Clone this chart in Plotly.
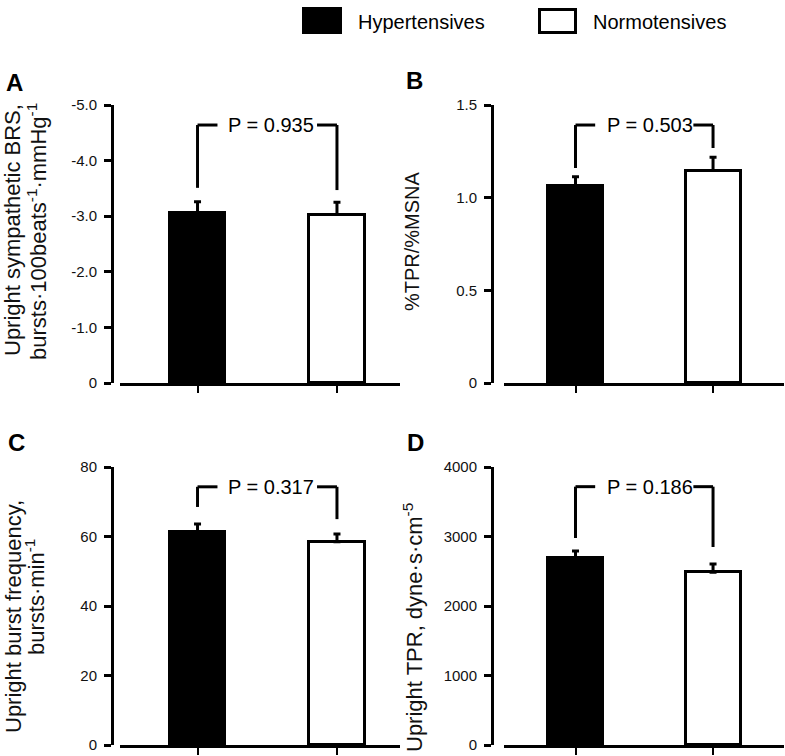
import plotly.graph_objects as go

W, H = 785, 756
FONT = "Liberation Sans, Arial, Helvetica, sans-serif"

# ---------------- data ----------------
groups = ["Hypertensives", "Normotensives"]
group_fill = ["black", "white"]

panel_letters = ["A", "B", "C", "D"]

means_A = [-3.06, -3.03]
sems_A = [0.20, 0.22]
means_B = [1.063, 1.146]
sems_B = [0.050, 0.072]
means_C = [61.4, 58.5]
sems_C = [2.2, 2.2]
means_D = [2686, 2484]
sems_D = [105, 120]

p_values = ["P = 0.935", "P = 0.503", "P = 0.317", "P = 0.186"]
bracket_level = [-4.64, 1.392, 74.3, 3717]
bracket_leg_ends = [[-3.51, -3.47], [1.160, 1.268], [68.5, 65.0], [2978, 2849]]

tickvals_A = [0, -1, -2, -3, -4, -5]
ticktext_A = ["0", "-1.0", "-2.0", "-3.0", "-4.0", "-5.0"]
tickvals_B = [0, 0.5, 1.0, 1.5]
ticktext_B = ["0", "0.5", "1.0", "1.5"]
tickvals_C = [0, 20, 40, 60, 80]
ticktext_C = ["0", "20", "40", "60", "80"]
tickvals_D = [0, 1000, 2000, 3000, 4000]
ticktext_D = ["0", "1000", "2000", "3000", "4000"]

titles_A = ["Upright sympathetic BRS,", "bursts·100beats<sup>-1</sup>·mmHg<sup>-1</sup>"]
titles_B = ["%TPR/%MSNA"]
titles_C = ["Upright burst frequency,", "bursts·min<sup>-1</sup>"]
titles_D = ["Upright TPR, dyne·s·cm<sup>-5</sup>"]

# ---------------- layout geometry (pixels) ----------------
def px(x):
    return x / W

def py(y):
    return 1 - y / H

panels = [
    dict(means=means_A, sems=sems_A, tv=tickvals_A, tt=ticktext_A, titles=titles_A,
         xdom=(120, 400), ydom=(105, 383), yax=112, xr=(-0.556, 1.452), yr=(0, -5),
         tpos=[(13, 230), (37, 232)], tsize=22, letter=(14, 82), pshift=4),
    dict(means=means_B, sems=sems_B, tv=tickvals_B, tt=ticktext_B, titles=titles_B,
         xdom=(504, 784), ydom=(105, 383), yax=492, xr=(-0.52, 1.516), yr=(0, 1.5),
         tpos=[(412, 241)], tsize=20, letter=(414, 81), pshift=6),
    dict(means=means_C, sems=sems_C, tv=tickvals_C, tt=ticktext_C, titles=titles_C,
         xdom=(120, 400), ydom=(467, 745), yax=112, xr=(-0.556, 1.452), yr=(0, 80),
         tpos=[(13, 617), (35, 597)], tsize=22, letter=(16, 443), pshift=4),
    dict(means=means_D, sems=sems_D, tv=tickvals_D, tt=ticktext_D, titles=titles_D,
         xdom=(504, 784), ydom=(467, 745), yax=492, xr=(-0.52, 1.516), yr=(0, 4000),
         tpos=[(413, 628)], tsize=22, letter=(415, 443), pshift=6),
]

fig = go.Figure()
shapes = []
annotations = []
layout = {}

for i, p in enumerate(panels):
    n = i + 1
    xa = "x" if n == 1 else f"x{n}"
    ya = "y" if n == 1 else f"y{n}"
    xkey = "xaxis" if n == 1 else f"xaxis{n}"
    ykey = "yaxis" if n == 1 else f"yaxis{n}"

    for g in range(2):
        m = p["means"][g]
        s = p["sems"][g]
        if m < 0:
            eplus, eminus = 0, s
        else:
            eplus, eminus = s, 0
        fig.add_trace(go.Bar(
            x=[g], y=[m], xaxis=xa, yaxis=ya, width=0.40,
            marker=dict(color=group_fill[g], line=dict(color="black", width=3)),
            error_y=dict(type="data", symmetric=False, array=[eplus], arrayminus=[eminus],
                         color="black", thickness=3, width=3.5),
            showlegend=False, name=groups[g],
        ))

    layout[xkey] = dict(
        domain=[px(p["xdom"][0]), px(p["xdom"][1])], anchor=ya, range=list(p["xr"]),
        showline=True, linecolor="black", linewidth=3, showgrid=False, zeroline=False,
        ticks="outside", ticklen=7, tickwidth=2, tickcolor="black", automargin=False,
        tickvals=[0, 1], showticklabels=False, fixedrange=True,
    )
    layout[ykey] = dict(
        domain=[py(p["ydom"][1]), py(p["ydom"][0])], anchor="free", position=px(p["yax"]),
        range=list(p["yr"]), showline=True, linecolor="black", linewidth=3,
        showgrid=False, zeroline=False, ticks="outside", ticklen=7, tickwidth=2.5,
        tickcolor="black", tickvals=p["tv"], ticktext=p["tt"], automargin=False,
        tickfont=dict(family=FONT, size=15, color="#111111"), ticklabelstandoff=4,
        fixedrange=True,
    )

    # bracket with P-value
    lev = bracket_level[i]
    legs = bracket_leg_ends[i]
    seg = 0.143
    line = dict(color="black", width=3)
    for (x0, y0, x1, y1) in [(0, legs[0], 0, lev), (0, lev, seg, lev),
                             (1 - seg, lev, 1, lev), (1, lev, 1, legs[1])]:
        shapes.append(dict(type="line", xref=xa, yref=ya, x0=x0, y0=y0, x1=x1, y1=y1, line=line))
    annotations.append(dict(xref=xa, yref=ya, x=0.5, y=lev, text=p_values[i], showarrow=False,
                            xanchor="center", yanchor="middle", xshift=p["pshift"],
                            font=dict(family=FONT, size=20, color="black")))

    # y-axis titles (rotated lines)
    for t, (tx, ty) in zip(p["titles"], p["tpos"]):
        annotations.append(dict(xref="paper", yref="paper", x=px(tx), y=py(ty), text=t,
                                textangle=-90, showarrow=False, xanchor="center", yanchor="middle",
                                font=dict(family=FONT, size=p["tsize"], color="#111111")))

    # panel letter
    lx, ly = p["letter"]
    annotations.append(dict(xref="paper", yref="paper", x=px(lx), y=py(ly),
                            text=f"<b>{panel_letters[i]}</b>", showarrow=False,
                            xanchor="center", yanchor="middle",
                            font=dict(family=FONT, size=24, color="black")))

# legend (manual)
legend_boxes = [(302, 7, 342, 34), (539.5, 9.5, 575.5, 32.5)]
legend_text_x = [356, 591]
for g in range(2):
    x0, y0, x1, y1 = legend_boxes[g]
    shapes.append(dict(type="rect", xref="paper", yref="paper", x0=px(x0), x1=px(x1),
                       y0=py(y1), y1=py(y0), fillcolor=group_fill[g],
                       line=dict(color="black", width=3 if g == 1 else 0)))
    annotations.append(dict(xref="paper", yref="paper", x=px(legend_text_x[g]), y=py(22),
                            text=groups[g], showarrow=False, xanchor="left", yanchor="middle",
                            font=dict(family=FONT, size=20, color="black")))

fig.update_layout(
    margin=dict(l=0, r=0, t=0, b=0, autoexpand=False),
    paper_bgcolor="white", plot_bgcolor="white",
    showlegend=False, bargap=0, shapes=shapes, annotations=annotations,
    **layout,
)

fig.write_html("out.html", config={"displayModeBar": False},
               default_width=f"{W}px; position:absolute; left:0; top:0",
               default_height=f"{H}px")
